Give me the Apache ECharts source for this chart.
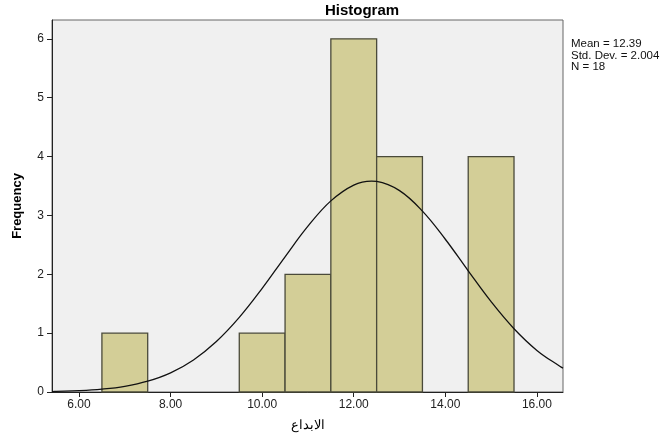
<!DOCTYPE html>
<html>
<head>
<meta charset="utf-8">
<script src="https://cdn.jsdelivr.net/npm/echarts@6/dist/echarts.min.js"></script>
<style>html,body{margin:0;padding:0;background:#fff;}#c{width:671px;height:439px;}</style>
</head>
<body>
<div id="c"></div>
<script>
// Histogram bins
var binStart = [6.5, 9.5, 10.5, 11.5, 12.5, 14.5];
var binEnd   = [7.5, 10.5, 11.5, 12.5, 13.5, 15.5];
var counts   = [1, 1, 2, 6, 4, 4];
// Fitted normal curve
var curveX = [5.41, 5.5, 6.0, 6.5, 7.0, 7.5, 8.0, 8.5, 9.0, 9.5, 10.0, 10.5, 11.0, 11.5, 12.0, 12.39, 12.5, 13.0, 13.5, 14.0, 14.5, 15.0, 15.5, 16.0, 16.5, 16.57];
var curveY = [0.008, 0.010, 0.022, 0.048, 0.096, 0.183, 0.325, 0.545, 0.857, 1.267, 1.760, 2.297, 2.817, 3.247, 3.516, 3.583, 3.578, 3.421, 3.073, 2.595, 2.058, 1.534, 1.075, 0.707, 0.437, 0.407];
var xTicks = [6, 8, 10, 12, 14, 16];
var yTicks = [0, 1, 2, 3, 4, 5, 6];
var statsLines = ['Mean = 12.39', 'Std. Dev. = 2.004', 'N = 18'];

var bars = binStart.map(function (s, i) { return [s, binEnd[i], counts[i]]; });
var curve = curveX.map(function (x, i) { return [x, curveY[i]]; });

var chart = echarts.init(document.getElementById('c'));
chart.setOption({
  animation: false,
  backgroundColor: '#fff',
  title: {
    text: 'Histogram', left: 357, top: -2, textAlign: 'center',
    textStyle: { fontFamily: 'Liberation Sans', fontSize: 15, fontWeight: 'bold', color: '#000' }
  },
  graphic: [{
    type: 'text', left: 571, top: 38,
    style: { text: statsLines.join('\n'), font: '11.5px "Liberation Sans"', fill: '#111', lineHeight: 11.5 }
  }],
  grid: {
    left: 52, right: 108, top: 20, bottom: 47,
    show: true, backgroundColor: '#f0f0f0', borderColor: '#666', borderWidth: 1
  },
  xAxis: {
    type: 'value', min: 5.41, max: 16.57,
    name: 'الابداع', nameLocation: 'middle', nameGap: 27,
    nameTextStyle: { fontFamily: 'Noto Sans', fontSize: 13, color: '#000' },
    axisLine: { show: true, lineStyle: { color: '#222', width: 1 } },
    axisTick: { show: true, length: 5, customValues: xTicks, lineStyle: { color: '#222' } },
    axisLabel: { customValues: xTicks, formatter: function (v) { return v.toFixed(2); },
      fontFamily: 'Liberation Sans', fontSize: 12, color: '#222', margin: 7 },
    splitLine: { show: false }
  },
  yAxis: {
    type: 'value', min: 0, max: 6.32,
    name: 'Frequency', nameLocation: 'middle', nameGap: 28, nameRotate: 90,
    nameTextStyle: { fontFamily: 'Liberation Sans', fontSize: 13, fontWeight: 'bold', color: '#000' },
    axisLine: { show: true, lineStyle: { color: '#222', width: 1 } },
    axisTick: { show: true, length: 5, customValues: yTicks, lineStyle: { color: '#222' } },
    axisLabel: { customValues: yTicks, fontFamily: 'Liberation Sans', fontSize: 12, color: '#222', margin: 8 },
    splitLine: { show: false }
  },
  series: [{
    type: 'custom',
    data: bars,
    renderItem: function (params, api) {
      var p0 = api.coord([api.value(0), api.value(2)]);
      var p1 = api.coord([api.value(1), 0]);
      return {
        type: 'rect',
        shape: { x: p0[0], y: p0[1], width: p1[0] - p0[0], height: p1[1] - p0[1] },
        style: { fill: '#d3ce97', stroke: '#4a4a3a', lineWidth: 1.3 }
      };
    },
    encode: { x: [0, 1], y: 2 },
    z: 2
  }, {
    type: 'line', data: curve, smooth: 0.4, symbol: 'none',
    lineStyle: { color: '#111', width: 1.3 }, z: 3
  }]
});
</script>
</body>
</html>
